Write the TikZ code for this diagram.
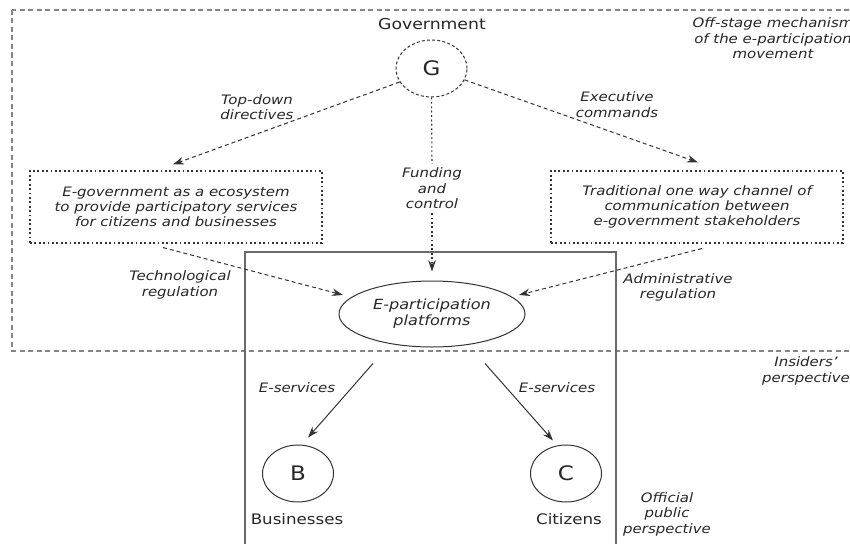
\documentclass[tikz,border=0pt]{standalone}
\usepackage{fontspec}
\setmainfont[FakeStretch=1.15]{DejaVu Sans}
\usetikzlibrary{arrows.meta,shapes.geometric}

\definecolor{txt}{HTML}{262626}
\definecolor{ln}{HTML}{333333}
\definecolor{frame}{HTML}{858585}

\tikzset{
  lbl/.style={font=\fontsize{13}{15.5}\selectfont\itshape, align=center, text=txt, inner sep=0pt},
  big/.style={font=\fontsize{14.5}{17}\selectfont, text=txt, inner sep=0pt},
  tip/.style={-{Stealth[length=11pt,width=7.5pt]}},
  dasharrow/.style={tip, draw=ln, line width=1pt, dash pattern=on 4pt off 3pt},
  dotline/.style={draw=ln, line width=1.1pt, dash pattern=on 1.8pt off 2.6pt},
  solidarrow/.style={tip, draw=ln, line width=1pt},
  dotbox/.style={draw=ln, line width=1.1pt, dash pattern=on 1.8pt off 2.6pt,
    minimum width=292pt, minimum height=72pt, inner sep=0pt,
    font=\fontsize{13}{15}\selectfont\itshape, align=center, text=txt},
  letter/.style={ellipse, draw=ln, line width=1pt, minimum width=71pt, minimum height=57pt,
    inner sep=0pt, font=\fontsize{20}{22}\selectfont, text=txt},
}

\begin{document}
\begin{tikzpicture}[x=1pt,y=-1pt]
\useasboundingbox (0,0) rectangle (850,543);

% off-stage frame and the official public frame
\draw[frame, line width=1.3pt, dash pattern=on 5pt off 3.5pt] (12,10) rectangle (880,351);
\draw[frame!80!black, line width=1.5pt] (245,252) rectangle (616,570);

% government
\node[big, font=\fontsize{15}{17}\selectfont] (gov) at (432,24) {Government};
\node[letter, dash pattern=on 3pt off 2.2pt] (G) at (431.5,68.5) {G};

\node[lbl] (td) at (257,107) {Top-down\\directives};
\node[lbl] (ex) at (617,104.5) {Executive\\commands};
\node[lbl, inner sep=4pt] (fund) at (432,188.5) {Funding\\and\\control};

\node[dotbox] (lbox) at (176,207) {E-government as a ecosystem\\to provide participatory services\\for citizens and businesses};
\node[dotbox] (rbox) at (697,207) {Traditional one way channel of\\communication between\\e-government stakeholders};

\node[ellipse, draw=ln, line width=1pt, minimum width=186pt, minimum height=66pt, inner sep=0pt,
  font=\fontsize{14}{16}\selectfont\itshape, align=center, text=txt] (ep) at (432,314)
  {E-participation\\platforms};

\node[lbl] (tech) at (180,285) {Technological\\regulation};
\node[lbl] (adm) at (678,287.5) {Administrative\\regulation};

\node[lbl] (off) at (773,38.5) {Off-stage mechanism\\of the e-participation\\movement};
\node[lbl] (ins) at (806,371) {Insiders'\\perspective};
\node[lbl] (pub) at (667,514) {Official\\public\\perspective};

% citizens and businesses
\node[letter] (B) at (298,473.5) {B};
\node[letter] (C) at (566,473.5) {C};
\node[big] (bn) at (297,519) {Businesses};
\node[big] (cn) at (569,519) {Citizens};
\node[lbl] (es1) at (297,388) {E-services};
\node[lbl] (es2) at (557,388) {E-services};

% connectors
\draw[dasharrow] (G.203) -- ([xshift=-3pt,yshift=6pt]lbox.north);
\draw[dasharrow] (G.341) -- ([xshift=1pt,yshift=8pt]rbox.north);
\draw[dotline] (G.south) -- (fund.north);
\draw[dotline, tip] (fund.south) -- ([yshift=9pt]ep.north);
\draw[dasharrow] ([xshift=-13pt,yshift=-4pt]lbox.south) -- ([xshift=-89pt,yshift=19pt]ep.center);
\draw[dasharrow] ([xshift=5pt,yshift=-5pt]rbox.south) -- ([xshift=87pt,yshift=19pt]ep.center);
\draw[solidarrow] ([xshift=-59pt,yshift=-16pt]ep.south) -- ([xshift=10pt,yshift=7pt]B.north);
\draw[solidarrow] ([xshift=53pt,yshift=-16pt]ep.south) -- ([xshift=-13pt,yshift=4pt]C.north);
\end{tikzpicture}
\end{document}
